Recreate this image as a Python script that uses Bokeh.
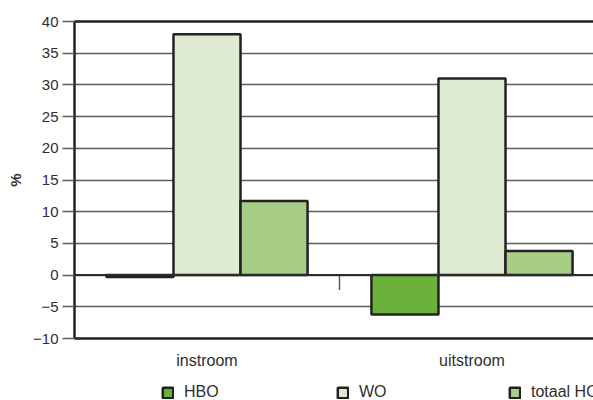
from math import pi
from bokeh.plotting import figure
from bokeh.layouts import column
from bokeh.models import LinearAxis, Span, FixedTicker, Range1d, Legend, LegendItem
from bokeh.embed import file_html
from bokeh.resources import INLINE

categories = ["instroom", "uitstroom"]
series = ["HBO", "WO", "totaal HO"]
hbo = [-0.3, -6.2]
wo = [38.0, 31.0]
totaal = [11.7, 3.8]
y_ticks = [-10, -5, 0, 5, 10, 15, 20, 25, 30, 35, 40]

colors = ["#6bb23d", "#deead1", "#a8cd86"]
values = [hbo, wo, totaal]
FONT = "Liberation Sans"
TXT = "#2e2e2e"

p = figure(frame_width=519, frame_height=317, output_backend="svg", toolbar_location=None,
           x_range=Range1d(0, 1.9585), y_range=Range1d(-10, 40),
           min_border_left=74, min_border_top=21, min_border_right=0, min_border_bottom=45)
p.outline_line_color = None
p.xaxis.visible = False
p.yaxis.visible = False
p.xgrid.visible = False
p.ygrid.ticker = FixedTicker(ticks=y_ticks)
p.ygrid.grid_line_color = "#5c5c5c"
p.ygrid.grid_line_width = 1.5

# left axis
yax = LinearAxis(ticker=FixedTicker(ticks=y_ticks))
yax.axis_line_color = "#222222"
yax.axis_line_width = 2.5
yax.major_tick_out = 12
yax.major_tick_in = 0
yax.major_tick_line_color = "#5c5c5c"
yax.major_tick_line_width = 1.5
yax.minor_tick_line_color = None
yax.major_label_text_font = FONT
yax.major_label_text_font_size = "15px"
yax.major_label_text_color = TXT
yax.major_label_standoff = 4
yax.axis_label = "%"
yax.axis_label_text_font = FONT
yax.axis_label_text_font_size = "15px"
yax.axis_label_text_font_style = "bold"
yax.axis_label_text_color = TXT
yax.axis_label_standoff = 6
p.add_layout(yax, "left")

# top border line
top = LinearAxis(ticker=FixedTicker(ticks=[]))
top.axis_line_color = "#222222"
top.axis_line_width = 2.5
top.major_tick_line_color = None
top.minor_tick_line_color = None
top.major_label_text_font_size = "0px"
p.add_layout(top, "above")

# bottom axis with category labels
centers = [i + 0.5 for i in range(len(categories))]
xax = LinearAxis(ticker=FixedTicker(ticks=centers))
xax.major_label_overrides = {c: lab for c, lab in zip(centers, categories)}
xax.axis_line_color = "#222222"
xax.axis_line_width = 2.5
xax.major_tick_line_color = None
xax.minor_tick_line_color = None
xax.major_label_text_font = FONT
xax.major_label_text_font_size = "16px"
xax.major_label_text_color = TXT
xax.major_label_standoff = 7
p.add_layout(xax, "below")

# zero line
p.add_layout(Span(location=0, dimension="width", line_color="#2a2a2a", line_width=2))
# category separator tick
bounds = [float(i) for i in range(1, len(categories))]
p.ray(x=bounds, y=[0] * len(bounds), length=15, length_units="screen",
      angle=-pi / 2, line_color="#5c5c5c", line_width=1.5)

bw = 0.253
for k, (name, vals, col) in enumerate(zip(series, values, colors)):
    xs = [c + (k - 1) * bw for c in centers]
    p.vbar(x=xs, top=vals, bottom=0, width=bw, fill_color=col,
           line_color="#222222", line_width=2.5)

# legend strip below the chart (its bars lie outside the visible range)
p2 = figure(width=593, height=18, output_backend="svg", toolbar_location=None,
            x_axis_location=None, y_axis_location=None,
            x_range=Range1d(100, 101), y_range=Range1d(100, 101),
            min_border_left=0, min_border_right=0, min_border_top=0, min_border_bottom=0)
p2.outline_line_color = None
p2.grid.visible = False
legend_x = [87, 262, 434]
for k, (name, vals, col) in enumerate(zip(series, values, colors)):
    xs = [c + (k - 1) * bw for c in centers]
    r = p2.vbar(x=xs, top=vals, bottom=0, width=bw, fill_color=col,
                line_color="#222222", line_width=2.5)
    leg = Legend(items=[LegendItem(label=name, renderers=[r])],
                 orientation="horizontal", location=(legend_x[k], 0))
    leg.glyph_width = 13
    leg.glyph_height = 13
    leg.label_standoff = 10
    leg.spacing = 0
    leg.padding = 0
    leg.margin = 0
    leg.border_line_color = None
    leg.background_fill_color = None
    leg.label_text_font = FONT
    leg.label_text_font_size = "16px"
    leg.label_text_color = TXT
    leg.label_text_align = "left"
    leg.label_height = 17
    p2.add_layout(leg)

layout = column(p, p2, spacing=0)
open("out.html", "w").write(file_html(layout, INLINE))
